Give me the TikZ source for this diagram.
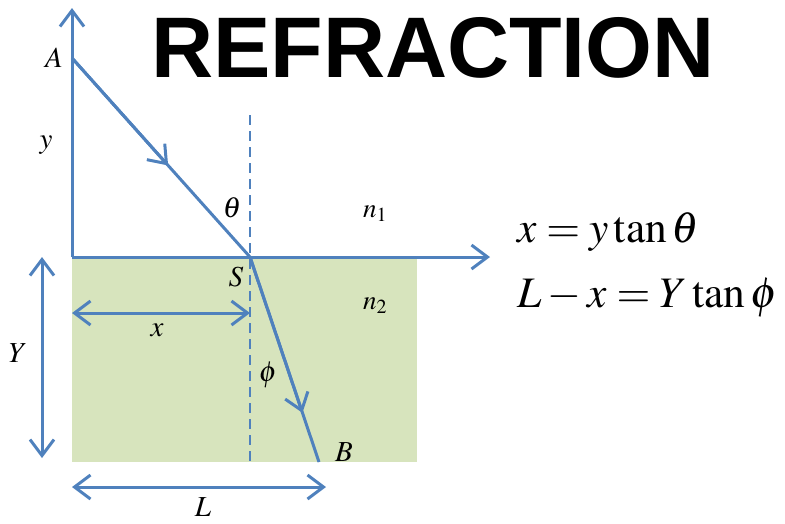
\documentclass[tikz,border=0pt]{standalone}
\usepackage{mathptmx}
\usepackage{fontspec}
\setmainfont{Liberation Serif}
\newfontfamily\titlefont{Liberation Sans}
\usetikzlibrary{arrows.meta,calc}
\definecolor{rayblue}{RGB}{79,129,189}
\definecolor{glass}{RGB}{215,228,189}
\begin{document}
\begin{tikzpicture}[
		x=1pt, y=-1pt,
		every node/.style={font=\fontsize{29}{31}\selectfont, inner sep=0pt},
		ray/.style={draw=rayblue, line width=3pt},
		barb/.style={-{Straight Barb[length=16pt, width=24pt]}},
		both/.style={{Straight Barb[length=16pt, width=24pt]}-{Straight Barb[length=16pt, width=24pt]}},
		normal/.style={draw=rayblue, line width=2.2pt, dash pattern=on 10pt off 6pt},
		eq/.style={font=\fontsize{43.5}{48}\selectfont, anchor=west}
	]
		\useasboundingbox (0,0) rectangle (785,523);

		\coordinate (O) at (72,257);
		\coordinate (A) at (72,58);
		\coordinate (S) at (250,257);
		\coordinate (B) at (319,462);

		\fill[glass] (72,257) rectangle (417,462);

		\draw[ray, barb] (O) -- (72,8);
		\draw[ray, barb] (O) -- (490,257);

		\draw[normal] (250,115) -- (250,462);

		\draw[ray] (A) -- (S);
		\draw[ray, barb] (A) -- ($(A)!0.54!(S)$);
		\draw[ray] (S) -- (B);
		\draw[ray, barb] (S) -- ($(S)!0.76!(B)$);

		\draw[ray, both] (42,257) -- (42,458);
		\draw[ray, both] (72,313) -- (250,313);
		\draw[ray, both] (72,487) -- (326,487);

		\node (lA) at (54,58) {$A$};
		\node (ly) at (46,145) {$y$};
		\node (lth) at (232,208) {$\theta$};
		\node (lS) at (236,277) {$S$};
		\node (lphi) at (268,375) {$\phi$};
		\node (lB) at (344,452) {$B$};
		\node (lY) at (18,353) {$Y$};
		\node (lx) at (157,330) {$x$};
		\node (lL) at (203,507) {$L$};
		\node[font=\fontsize{27}{29}\selectfont] (n1) at (375,214) {$n_1$};
		\node[font=\fontsize{27}{29}\selectfont] (n2) at (375,306) {$n_2$};

		\node[font=\titlefont\bfseries\fontsize{86}{90}\selectfont] (title) at (433,48) {REFRACTION};

		\node[eq] (eq1) at (517,232) {$x = y\tan\theta$};
		\node[eq] (eq2) at (517,298) {$L - x = Y\tan\phi$};
	\end{tikzpicture}
\end{document}
